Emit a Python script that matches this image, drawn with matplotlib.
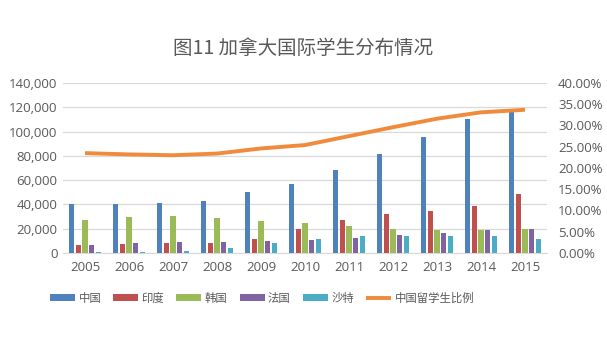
import matplotlib
matplotlib.use("Agg")
import matplotlib.pyplot as plt
import numpy as np
from matplotlib.ticker import FuncFormatter, MultipleLocator

plt.rcParams['font.family'] = ['Noto Sans CJK SC', 'DejaVu Sans']

years = ['2005', '2006', '2007', '2008', '2009', '2010', '2011', '2012', '2013', '2014', '2015']
china = [40000, 40000, 41000, 42800, 50300, 56900, 68600, 81500, 95800, 110600, 118000]
india = [6900, 7400, 8000, 8200, 11300, 19900, 27200, 32200, 34800, 39000, 48600]
korea = [27500, 29400, 30700, 28800, 26700, 25000, 22200, 20000, 18700, 19200, 19800]
france = [6900, 8000, 8800, 9300, 9900, 10900, 12400, 14800, 16500, 18700, 19800]
saudi = [1000, 1000, 1900, 4400, 8000, 11900, 14000, 14000, 14000, 13700, 11300]
ratio = [0.235, 0.232, 0.230, 0.234, 0.246, 0.254, 0.275, 0.296, 0.316, 0.331, 0.337]

series_names = ['中国', '印度', '韩国', '法国', '沙特']
line_name = '中国留学生比例'
colors = ['#4F81BD', '#C0504D', '#9BBB59', '#8064A2', '#4BACC6']
line_color = '#F08A3C'
text_color = '#595959'
title = '图11 加拿大国际学生分布情况'

fig = plt.figure(figsize=(6.07, 3.45), dpi=100)
ax = fig.add_axes([63/607, 1-253/345, 484/607, 170/345])
ax2 = ax.twinx()

x = np.arange(len(years))
step = 0.158
width = 0.115
data = [china, india, korea, france, saudi]
handles = []
for i, (vals, c, n) in enumerate(zip(data, colors, series_names)):
    b = ax.bar(x + (i - 2) * step, vals, width=width, color=c, label=n, zorder=3)
    handles.append(b)

ln, = ax2.plot(x, ratio, color=line_color, lw=2.8, label=line_name, zorder=4, solid_capstyle='butt')

ax.set_xlim(-0.5, len(years) - 0.5)
ax.set_ylim(0, 140000)
ax2.set_ylim(0, 0.40)
ax.yaxis.set_major_locator(MultipleLocator(20000))
ax2.yaxis.set_major_locator(MultipleLocator(0.05))
ax.yaxis.set_major_formatter(FuncFormatter(lambda v, p: f'{int(v):,}'))
ax2.yaxis.set_major_formatter(FuncFormatter(lambda v, p: f'{v*100:.2f}%'))
ax.set_xticks(x)
ax.set_xticklabels(years)

ax.grid(axis='y', color='#D9D9D9', lw=0.9, zorder=0)
ax.set_axisbelow(True)
for a in (ax, ax2):
    for s in a.spines.values():
        s.set_visible(False)
    a.tick_params(length=0, colors=text_color, labelsize=9.5)
    for lab in a.get_yticklabels() + a.get_xticklabels():
        lab.set_family(['Open Sans', 'DejaVu Sans'])
ax.tick_params(axis='y', pad=4)
ax.tick_params(axis='x', pad=6)
ax2.tick_params(axis='y', pad=8)
ax.spines['bottom'].set_visible(True)
ax.spines['bottom'].set_color('#D9D9D9')

fig.text(303/607, 1-48/345, title, ha='center', va='center', fontsize=14, color=text_color)

leg = fig.legend(handles + [ln], series_names + [line_name], loc='center',
                 bbox_to_anchor=(262/607, 1-298/345), ncol=6, frameon=False,
                 fontsize=8.2, handlelength=2.2, handleheight=0.5, columnspacing=1.05,
                 handletextpad=0.3, labelcolor=text_color)

fig.savefig('out.png', dpi=100, facecolor='white')
